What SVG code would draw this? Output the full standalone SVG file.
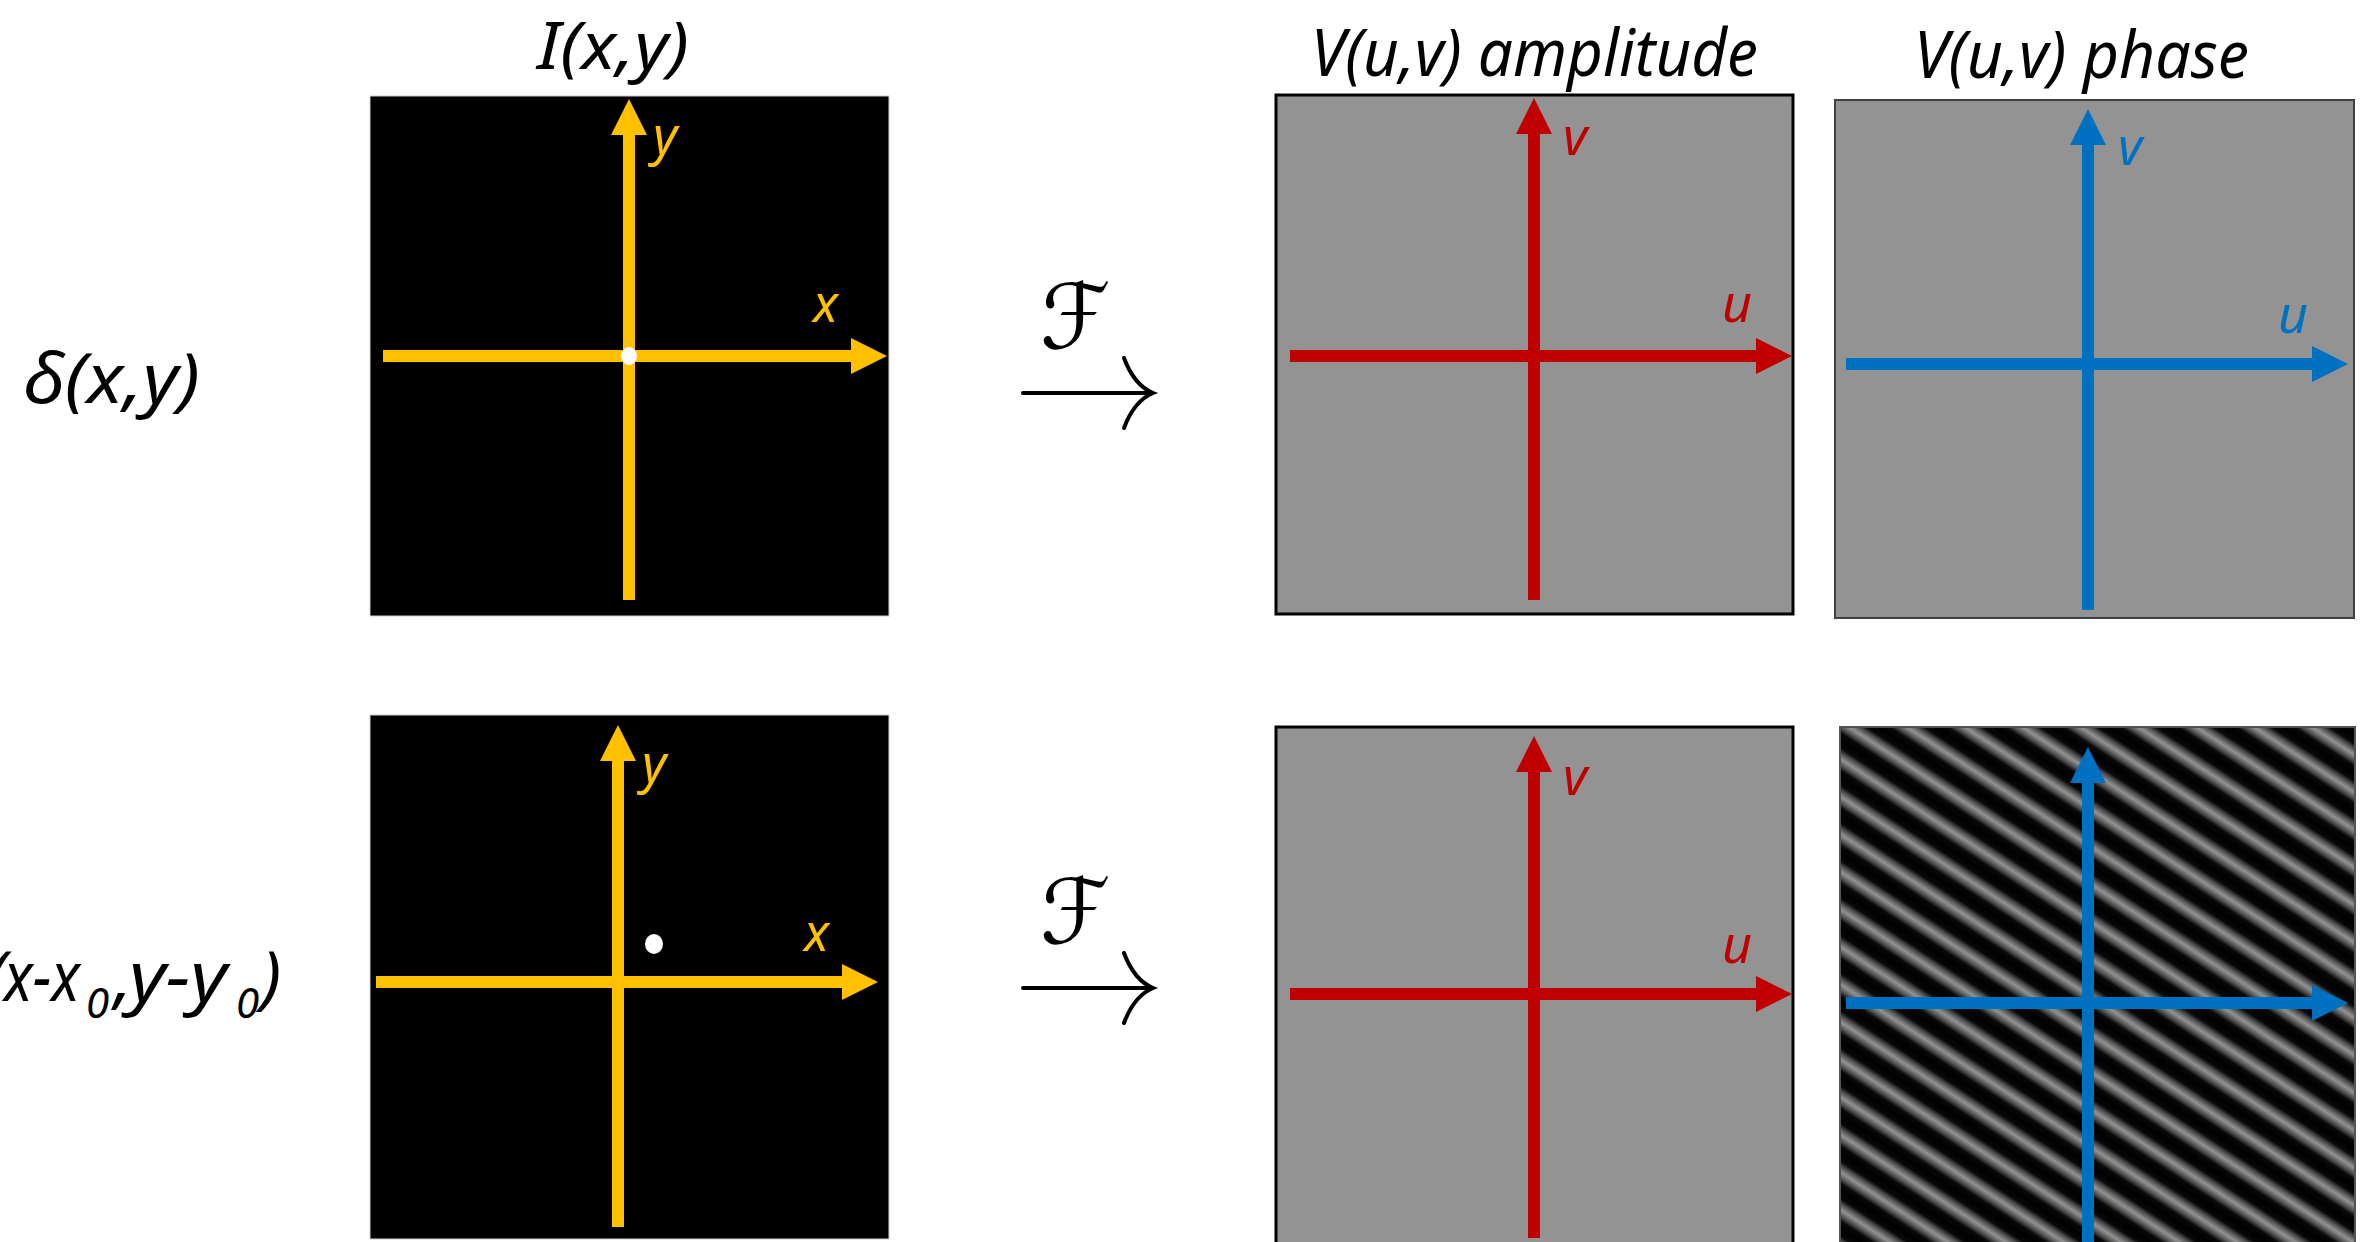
<svg xmlns="http://www.w3.org/2000/svg" width="2360" height="1242" viewBox="0 0 2360 1242">
  <style>
    .lbl { font-family: "Noto Sans", "DejaVu Sans", sans-serif; font-style: italic; }
    .title { font-size: 66px; fill: #000; }
    .ax { font-size: 52px; }
    .yel { stroke: #FFC000; stroke-width: 12; fill: none; }
    .red { stroke: #C00000; stroke-width: 12; fill: none; }
    .blu { stroke: #0070C0; stroke-width: 12; fill: none; }
    .img { fill: #000; stroke: #d0d0d0; stroke-width: 1; }
    .amp { fill: #939393; stroke: #000; stroke-width: 3; }
    .ft { stroke: #000; stroke-width: 4; fill: none; stroke-linecap: round; }
    .fsym { font-family: "DejaVu Serif", "DejaVu Sans", serif; font-size: 90px; fill: #000; }
  </style>
  <defs>
    <marker id="hy" markerUnits="userSpaceOnUse" viewBox="0 0 36 36" markerWidth="36" markerHeight="36" refX="0" refY="18" orient="auto">
      <path d="M0,0 L36,18 L0,36 z" fill="#FFC000"/>
    </marker>
    <marker id="hr" markerUnits="userSpaceOnUse" viewBox="0 0 36 36" markerWidth="36" markerHeight="36" refX="0" refY="18" orient="auto">
      <path d="M0,0 L36,18 L0,36 z" fill="#C00000"/>
    </marker>
    <marker id="hb" markerUnits="userSpaceOnUse" viewBox="0 0 36 36" markerWidth="36" markerHeight="36" refX="0" refY="18" orient="auto">
      <path d="M0,0 L36,18 L0,36 z" fill="#0070C0"/>
    </marker>
    <linearGradient id="sg" x1="0" y1="0" x2="0" y2="1">
      <stop offset="0" stop-color="#000"/>
      <stop offset="0.2" stop-color="#080808"/>
      <stop offset="0.33" stop-color="#4e4e4e"/>
      <stop offset="0.5" stop-color="#949494"/>
      <stop offset="0.67" stop-color="#4e4e4e"/>
      <stop offset="0.8" stop-color="#080808"/>
      <stop offset="1" stop-color="#000"/>
    </linearGradient>
    <pattern id="stripes" patternUnits="userSpaceOnUse" x="0" y="0" width="200" height="31.5" patternTransform="translate(1840,740) rotate(33)">
      <rect x="0" y="0" width="200" height="31.5" fill="url(#sg)"/>
    </pattern>
  </defs>

  <!-- column titles -->
  <g id="title-image">
    <text class="lbl title" x="537" y="69" font-size="70" textLength="152" lengthAdjust="spacingAndGlyphs">I(x,y)</text>
  </g>
  <g id="title-amplitude">
    <text class="lbl title" x="1311" y="76" textLength="447" lengthAdjust="spacingAndGlyphs">V(u,v) amplitude</text>
  </g>
  <g id="title-phase">
    <text class="lbl title" x="1914" y="78" textLength="335" lengthAdjust="spacingAndGlyphs">V(u,v) phase</text>
  </g>

  <!-- row labels -->
  <g id="row1-label">
    <text class="lbl" x="23" y="403" font-size="70" textLength="177" lengthAdjust="spacingAndGlyphs">δ(x,y)</text>
  </g>
  <g id="row2-label">
    <text class="lbl" y="1001" font-size="70"><tspan x="-14">(</tspan><tspan x="4" textLength="76" lengthAdjust="spacingAndGlyphs">x-x</tspan><tspan x="86" y="1018" font-size="42">0</tspan><tspan x="114" y="1001">,</tspan><tspan x="129" textLength="98" lengthAdjust="spacingAndGlyphs">y-y</tspan><tspan x="236" y="1018" font-size="42">0</tspan><tspan x="261" y="1001">)</tspan></text>
  </g>

  <!-- row 1 -->
  <g id="img1">
    <rect class="img" x="370" y="96" width="519" height="520"/>
    <line class="yel" x1="629" y1="600" x2="629" y2="135" marker-end="url(#hy)"/>
    <line class="yel" x1="383" y1="356" x2="851" y2="356" marker-end="url(#hy)"/>
    <ellipse cx="629" cy="356" rx="8" ry="9" fill="#fff"/>
    <text class="lbl ax" x="653" y="154" fill="#FFC000">y</text>
    <text class="lbl ax" x="813" y="322" fill="#FFC000">x</text>
  </g>
  <g id="amp1">
    <rect class="amp" x="1276" y="95" width="517" height="519"/>
    <line class="red" x1="1534" y1="600" x2="1534" y2="134" marker-end="url(#hr)"/>
    <line class="red" x1="1290" y1="356" x2="1756" y2="356" marker-end="url(#hr)"/>
    <text class="lbl ax" x="1563" y="155" fill="#C00000">v</text>
    <text class="lbl ax" x="1722" y="322" fill="#C00000">u</text>
  </g>
  <g id="phase1">
    <rect x="1835" y="100" width="519" height="518" fill="#939393" stroke="#404040" stroke-width="2"/>
    <line class="blu" x1="2088" y1="610" x2="2088" y2="145" marker-end="url(#hb)"/>
    <line class="blu" x1="1846" y1="364" x2="2312" y2="364" marker-end="url(#hb)"/>
    <text class="lbl ax" x="2118" y="165" fill="#0070C0">v</text>
    <text class="lbl ax" x="2278" y="333" fill="#0070C0">u</text>
  </g>

  <!-- row 2 -->
  <g id="img2">
    <rect class="img" x="370" y="715" width="519" height="524"/>
    <line class="yel" x1="618" y1="1227" x2="618" y2="761" marker-end="url(#hy)"/>
    <line class="yel" x1="376" y1="982" x2="842" y2="982" marker-end="url(#hy)"/>
    <ellipse cx="654" cy="944" rx="9" ry="10" fill="#fff"/>
    <text class="lbl ax" x="642" y="782" fill="#FFC000">y</text>
    <text class="lbl ax" x="804" y="951" fill="#FFC000">x</text>
  </g>
  <g id="amp2">
    <rect class="amp" x="1276" y="727" width="517" height="530"/>
    <line class="red" x1="1534" y1="1238" x2="1534" y2="772" marker-end="url(#hr)"/>
    <line class="red" x1="1290" y1="994" x2="1756" y2="994" marker-end="url(#hr)"/>
    <text class="lbl ax" x="1563" y="795" fill="#C00000">v</text>
    <text class="lbl ax" x="1722" y="963" fill="#C00000">u</text>
  </g>
  <g id="phase2">
    <rect x="1840" y="727" width="515" height="530" fill="url(#stripes)" stroke="#555" stroke-width="2"/>
    <line class="blu" x1="2088" y1="1242" x2="2088" y2="783" marker-end="url(#hb)"/>
    <line class="blu" x1="1846" y1="1003" x2="2312" y2="1003" marker-end="url(#hb)"/>
  </g>

  <!-- Fourier transform connectors -->
  <g id="connectors">
    <g id="ft1">
      <text class="fsym" x="1040" y="348">ℱ</text>
      <path class="ft" d="M1023,393 L1152,393"/>
      <path class="ft" d="M1124,358 Q1134,385 1153,393 Q1134,401 1124,428"/>
    </g>
    <g id="ft2">
      <text class="fsym" x="1040" y="943">ℱ</text>
      <path class="ft" d="M1023,988 L1152,988"/>
      <path class="ft" d="M1124,953 Q1134,980 1153,988 Q1134,996 1124,1023"/>
    </g>
  </g>
</svg>
